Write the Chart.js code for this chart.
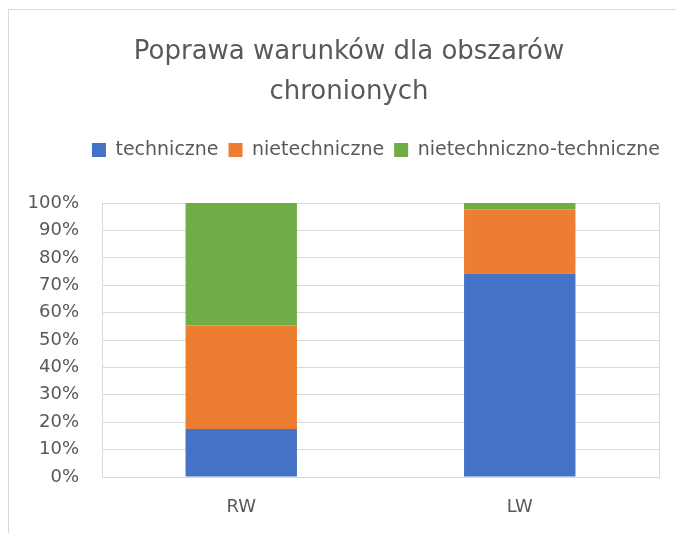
<!DOCTYPE html>
<html>
<head>
<meta charset="utf-8">
<script src="https://cdn.jsdelivr.net/npm/chart.js@4.4.1/dist/chart.umd.min.js"></script>
<style>
  html, body { margin: 0; padding: 0; background: #ffffff; overflow: hidden; }
  #frame { position: absolute; left: 8px; top: 9px; width: 720px; height: 600px;
           border: 1px solid #d9d9d9; border-right: none; border-bottom: none; }
  #wrap { position: absolute; left: 0; top: 0; width: 676px; height: 533px; }
</style>
</head>
<body>
<div id="frame"></div>
<div id="wrap"><canvas id="chart" width="676" height="533"></canvas></div>
<script>
// Udział typów działań (w %) dla obszarów chronionych
const categories = ['RW', 'LW'];
const techniczne = [17.5, 74.3];
const nietechniczne = [37.8, 23.4];
const nietechnicznoTechniczne = [44.7, 2.3];
const yTicks = [0, 10, 20, 30, 40, 50, 60, 70, 80, 90, 100];

const TEXT = '#595959';
const GRID = '#d9d9d9';
Chart.defaults.font.family = '"DejaVu Sans", sans-serif';
Chart.defaults.color = TEXT;

// spacing tweaks: extra room under the legend, title and legend nudged to the right
const layoutTweaks = {
  id: 'layoutTweaks',
  beforeInit(chart) {
    const fit = chart.legend.fit;
    chart.legend.fit = function () {
      fit.call(this);
      this.height += 33.5;
    };
  },
  afterLayout(chart) {
    chart.titleBlock.left += 39;
    chart.legend.right += 11;
  }
};

new Chart(document.getElementById('chart'), {
  type: 'bar',
  data: {
    labels: categories,
    datasets: [
      { label: 'techniczne', data: techniczne, backgroundColor: '#4472C4' },
      { label: 'nietechniczne', data: nietechniczne, backgroundColor: '#ED7D31' },
      { label: 'nietechniczno-techniczne', data: nietechnicznoTechniczne, backgroundColor: '#70AD47' }
    ]
  },
  options: {
    responsive: false,
    animation: false,
    layout: { padding: { left: 0, right: 17, top: 0, bottom: 0 } },
    datasets: { bar: { categoryPercentage: 1, barPercentage: 0.4, borderWidth: 0 } },
    plugins: {
      title: {
        display: true,
        text: ['Poprawa warunków dla obszarów', 'chronionych'],
        color: TEXT,
        font: { size: 26, weight: 'normal', lineHeight: 1.54 },
        padding: { top: 32, bottom: 18.5 }
      },
      legend: {
        display: true,
        align: 'end',
        labels: {
          color: TEXT,
          font: { size: 19 },
          boxWidth: 14,
          boxHeight: 14,
          padding: 10
        }
      },
      tooltip: { enabled: false }
    },
    scales: {
      x: {
        stacked: true,
        offset: true,
        grid: {
          offset: true,
          drawTicks: false,
          lineWidth: 1,
          color: ctx => (ctx.index === 1 ? 'rgba(0,0,0,0)' : GRID)
        },
        border: { display: true, color: GRID },
        ticks: { color: TEXT, font: { size: 18 }, padding: 20 },
        afterFit(scale) { scale.height = 56; }
      },
      y: {
        stacked: true,
        min: 0,
        max: 100,
        afterBuildTicks(scale) { scale.ticks = yTicks.map(v => ({ value: v })); },
        grid: { drawTicks: false, color: GRID, lineWidth: 1 },
        border: { display: true, color: GRID },
        ticks: { color: TEXT, font: { size: 18 }, padding: 23, callback: v => v + '%' },
        afterFit(scale) { scale.width = 102; }
      }
    }
  },
  plugins: [layoutTweaks]
});
</script>
</body>
</html>
